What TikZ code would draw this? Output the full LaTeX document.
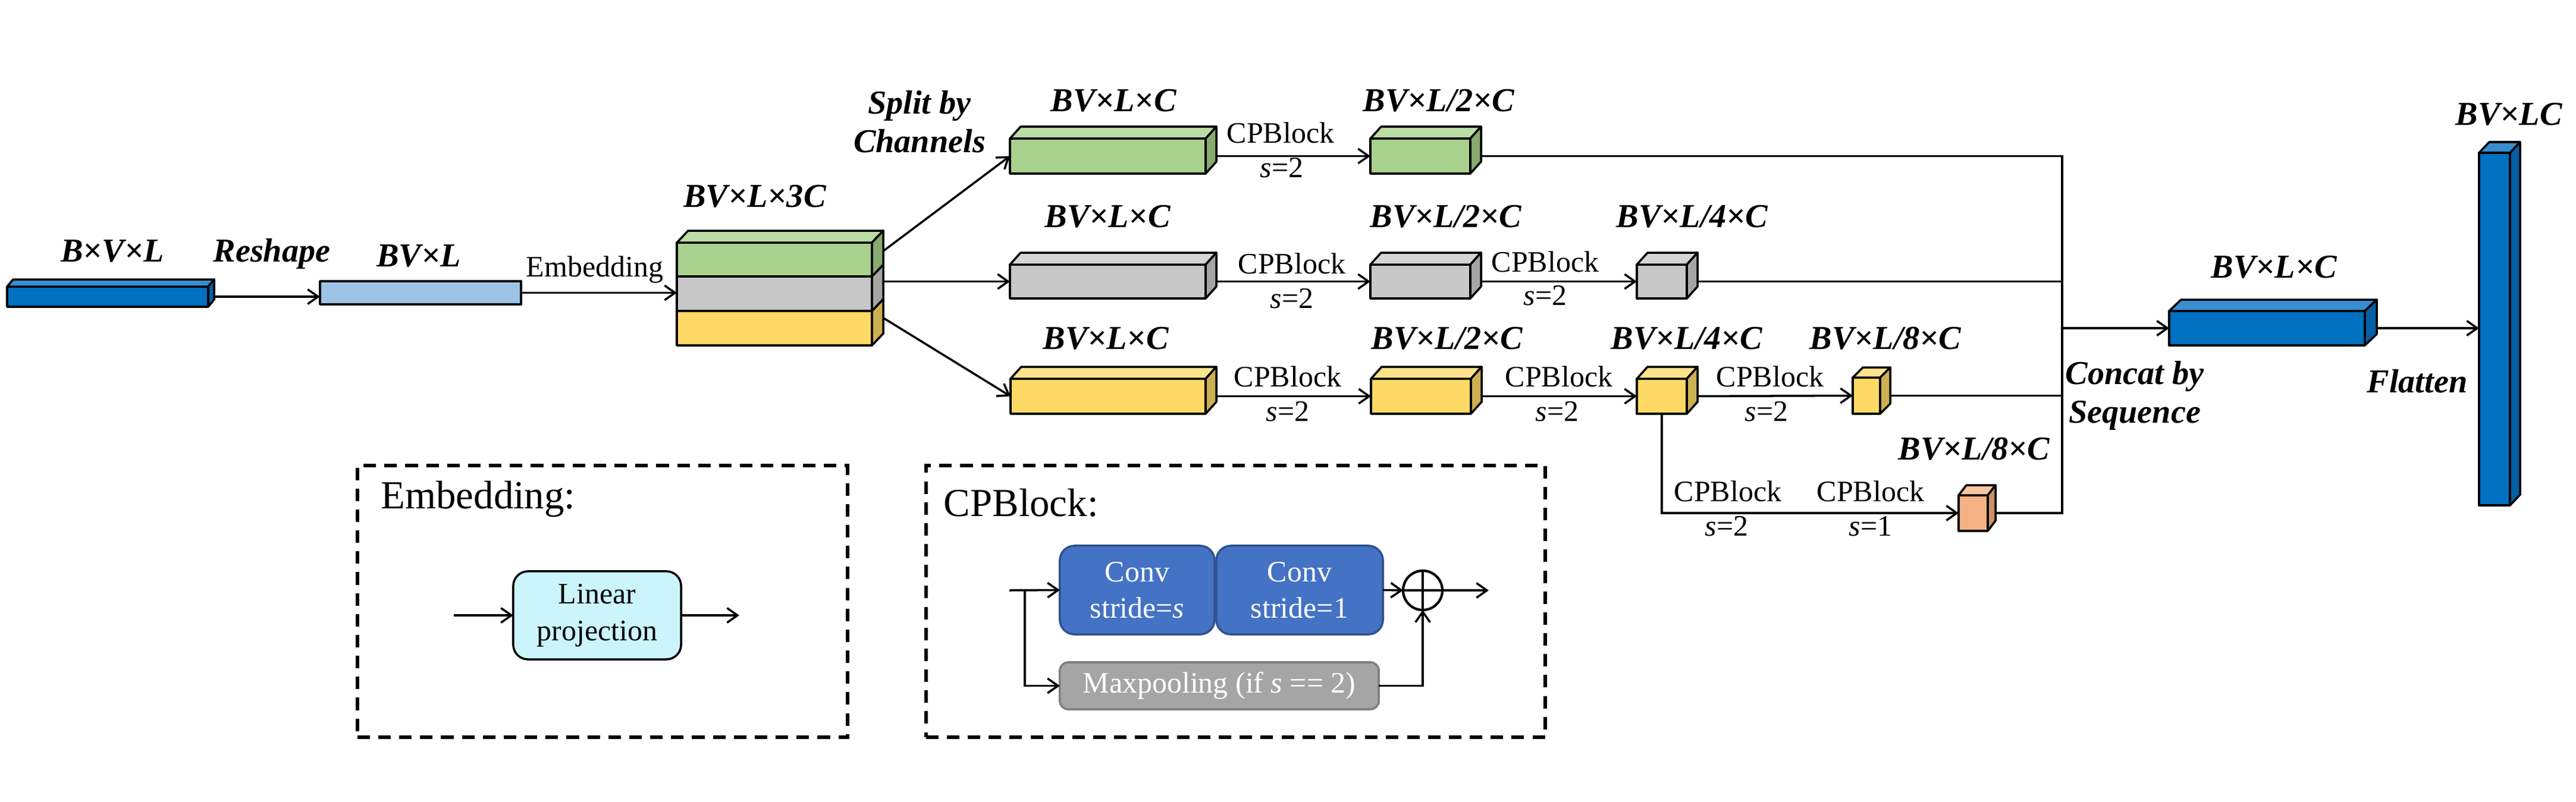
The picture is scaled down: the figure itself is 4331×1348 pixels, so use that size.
\documentclass[tikz,border=0pt]{standalone}
\usepackage{fontspec}
\setmainfont{Liberation Serif}
\usetikzlibrary{arrows.meta,calc}
\pgfdeclarelayer{background}
\pgfsetlayers{background,main}
\definecolor{dblF}{HTML}{0070C0}\definecolor{dblT}{HTML}{3A8DCE}\definecolor{dblS}{HTML}{0560A5}
\definecolor{lbl}{HTML}{9DC3E6}
\definecolor{grnF}{HTML}{A9D18E}\definecolor{grnT}{HTML}{BBDCA4}\definecolor{grnS}{HTML}{88AA6E}
\definecolor{gryF}{HTML}{C8C8C8}\definecolor{gryT}{HTML}{D5D5D5}\definecolor{gryS}{HTML}{A5A5A5}
\definecolor{ylwF}{HTML}{FFD966}\definecolor{ylwT}{HTML}{FFE38C}\definecolor{ylwS}{HTML}{CDB052}
\definecolor{orgF}{HTML}{F4B183}\definecolor{orgT}{HTML}{F7C6A0}\definecolor{orgS}{HTML}{C9916A}
\definecolor{convF}{HTML}{4472C4}\definecolor{convD}{HTML}{2F528F}
\definecolor{mpF}{HTML}{A5A5A5}\definecolor{mpD}{HTML}{7F7F7F}
\definecolor{lpF}{HTML}{CCF4FB}
\newcommand\cubebox[8]{%
  \pgfmathsetmacro\cbw{(#4-#2)*0.01}%
  \pgfmathsetmacro\cbh{(#5-#3)*0.01}%
  \node[cubeface, fill=#8F, minimum width=\cbw cm, minimum height=\cbh cm] (#1) at ({(#2+#4)/2},{(#3+#5)/2}) {};
  \draw[cubeface, fill=#8T] (#1.north west) -- ++(#6,-#7) -- ($(#1.north east)+(#6,-#7)$) -- (#1.north east) -- cycle;
  \draw[cubeface, fill=#8S] (#1.north east) -- ++(#6,-#7) -- ($(#1.south east)+(#6,-#7)$) -- (#1.south east) -- cycle;
}
\begin{document}
\begin{tikzpicture}[x=0.01cm,y=-0.01cm,
  cubeface/.style={draw, line width=1pt, line join=round, inner sep=0, outer sep=0},
  lab/.style={font=\fontsize{16}{18.5}\selectfont\bfseries\itshape, inner sep=0, anchor=base},
  txt/.style={font=\fontsize{14.2}{17.5}\selectfont, inner sep=0, anchor=base},
  ttl/.style={font=\fontsize{19}{22}\selectfont, inner sep=0, anchor=base west},
  arr/.style={line width=1pt, -{Straight Barb[length=5pt,width=7pt]}},
  ln/.style={line width=1pt},
  dbox/.style={draw, line width=1.7pt, dash pattern=on 6pt off 4pt, inner sep=0, outer sep=0},
  rbox/.style={draw, line width=1pt, rounded corners=7pt, inner sep=0, outer sep=0, align=center,
    font=\fontsize{14.2}{17.5}\selectfont}]
\useasboundingbox (0,0) rectangle (4331,1348);

% ---- main row ----
\cubebox{b1}{12}{482}{350}{516}{10}{12}{dbl}
\node[cubeface, fill=lbl, minimum width=3.38cm, minimum height=0.39cm] (b2) at (707,492.5) {};
\cubebox{sy}{1138}{523}{1466}{581}{19}{20}{ylw}
\cubebox{sgy}{1138}{465}{1466}{523}{19}{20}{gry}
\cubebox{sg}{1138}{408}{1466}{465}{19}{20}{grn}
% green branch
\cubebox{g1}{1698}{233}{2027}{292}{18}{20}{grn}
\cubebox{g2}{2304}{233}{2472}{292}{18}{20}{grn}
% gray branch
\cubebox{gy1}{1698}{445}{2027}{502}{18}{20}{gry}
\cubebox{gy2}{2304}{445}{2472}{502}{18}{20}{gry}
\cubebox{gy3}{2752}{445}{2836}{502}{18}{20}{gry}
% yellow branch
\cubebox{y1}{1699}{637}{2027}{696}{18}{20}{ylw}
\cubebox{y2}{2305}{637}{2473}{696}{18}{20}{ylw}
\cubebox{y3}{2752}{637}{2836}{696}{18}{20}{ylw}
\cubebox{y4}{3115}{635}{3161}{696}{17}{17}{ylw}
\cubebox{o1}{3293}{833}{3342}{893}{13}{17}{org}
% output
\cubebox{bb}{3647}{523}{3976}{581}{20}{19}{dbl}
\cubebox{tb}{4168}{257}{4220}{850}{17}{18}{dbl}
\coordinate (cj) at (3467,552);

% ---- labels ----
\node[lab] at (189,440) {B×V×L};
\node[lab] at (457,440) {Reshape};
\node[lab] at (704,448) {BV×L};
\node[txt] at (1000,465) {Embedding};
\node[lab] at (1269,348) {BV×L×3C};
\node[lab, anchor=north, align=center] at (1546,152) {Split by\\Channels};
\node[lab] at (1872,187) {BV×L×C};
\node[lab] at (2419,187) {BV×L/2×C};
\node[txt] at (2153,240) {CPBlock};
\node[txt] at (2155,298) {\textit{s}=2};
\node[lab] at (1862,382) {BV×L×C};
\node[lab] at (2431,382) {BV×L/2×C};
\node[lab] at (2845,382) {BV×L/4×C};
\node[txt] at (2172,460) {CPBlock};
\node[txt] at (2172,518) {\textit{s}=2};
\node[txt] at (2598,457) {CPBlock};
\node[txt] at (2598,513) {\textit{s}=2};
\node[lab] at (1859,587) {BV×L×C};
\node[lab] at (2433,587) {BV×L/2×C};
\node[lab] at (2836,587) {BV×L/4×C};
\node[lab] at (3170,587) {BV×L/8×C};
\node[txt] at (2165,650) {CPBlock};
\node[txt] at (2165,708) {\textit{s}=2};
\node[txt] at (2621,650) {CPBlock};
\node[txt] at (2618,708) {\textit{s}=2};
\node[txt] at (2976,650) {CPBlock};
\node[txt] at (2970,708) {\textit{s}=2};
\node[lab] at (3319,773) {BV×L/8×C};
\node[txt] at (2905,843) {CPBlock};
\node[txt] at (2903,901) {\textit{s}=2};
\node[txt] at (3145,843) {CPBlock};
\node[txt] at (3145,901) {\textit{s}=1};
\node[lab] at (3823,467) {BV×L×C};
\node[lab, anchor=north, align=center] at (3589,607) {Concat by\\Sequence};
\node[lab] at (4064,660) {Flatten};
\node[lab] at (4218,210) {BV×LC};

% ---- legend boxes ----
\node[dbox, minimum width=8.24cm, minimum height=4.57cm] (embbox) at (1013,1011.5) {};
\node[dbox, minimum width=10.41cm, minimum height=4.57cm] (cpbbox) at (2077.5,1011.5) {};
\node[ttl] at (640,855) {Embedding:};
\node[ttl] at (1586,868) {CPBlock:};
\node[rbox, fill=lpF, minimum width=2.82cm, minimum height=1.48cm] (lp) at (1004,1035) {Linear\\projection};
\coordinate (lpin) at (763,1035);
\coordinate (lpout) at (1243,1035);
\node[rbox, fill=convF, draw=convD, text=white, minimum width=2.60cm, minimum height=1.49cm] (c1) at (1912,992.5) {Conv\\stride=\textit{s}};
\node[rbox, fill=convF, draw=convD, text=white, minimum width=2.80cm, minimum height=1.49cm] (c2) at (2185,992.5) {Conv\\stride=1};
\node[rbox, rounded corners=4pt, fill=mpF, draw=mpD, text=white, minimum width=5.36cm, minimum height=0.79cm] (mp) at (2050,1153.5) {Maxpooling (if \textit{s} == 2)};
\node[draw, circle, line width=1.2pt, minimum size=0.66cm, inner sep=0, outer sep=0] (ad) at (2392,993) {};
\draw[line width=1.2pt] (ad.north) -- (ad.south) (ad.west) -- (ad.east);
\coordinate (cin) at (1697,993);
\coordinate (cbr) at (1723,993);
\coordinate (cout) at (2503,993);

% ---- connectors ----
\begin{pgfonlayer}{background}
\draw[arr] (b1.east) -- (b1.east -| b2.west);
\draw[arr] (b2.east) -- (b2.east -| sgy.west);
\draw[arr] (sg.east) -- (g1.west);
\draw[arr] (sgy.east |- gy1.west) -- (gy1.west);
\draw[arr] (sy.north east) -- (y1.west);
\draw[arr] (g1.east) -- (g2.west);
\draw[arr] (gy1.east) -- (gy2.west);
\draw[arr] (gy2.east) -- (gy3.west);
\draw[arr] (y1.east) -- (y2.west);
\draw[arr] (y2.east) -- (y3.west);
\draw[arr] (y3.east) -- (y4.west);
\draw[arr] (y3.south) |- (o1.west);
\draw[ln] (g2.east) -| (cj) |- (o1.east);
\draw[ln] (gy3.east) -- (gy3.east -| cj);
\draw[ln] (y4.east) -- (y4.east -| cj);
\draw[arr] (cj) -- (cj -| bb.west);
\draw[arr] (bb.east) -- (bb.east -| tb.west);
\end{pgfonlayer}
\draw[arr] (lpin) -- (lp.west);
\draw[arr] (lp.east) -- (lpout);
\draw[arr] (cin) -- (c1.west);
\draw[arr] (cbr) |- (mp.west);
\draw[arr] (c2.east) -- (ad.west);
\draw[arr] (ad.east) -- (cout);
\draw[arr] (mp.east) -| (ad.south);
\end{tikzpicture}
\end{document}
